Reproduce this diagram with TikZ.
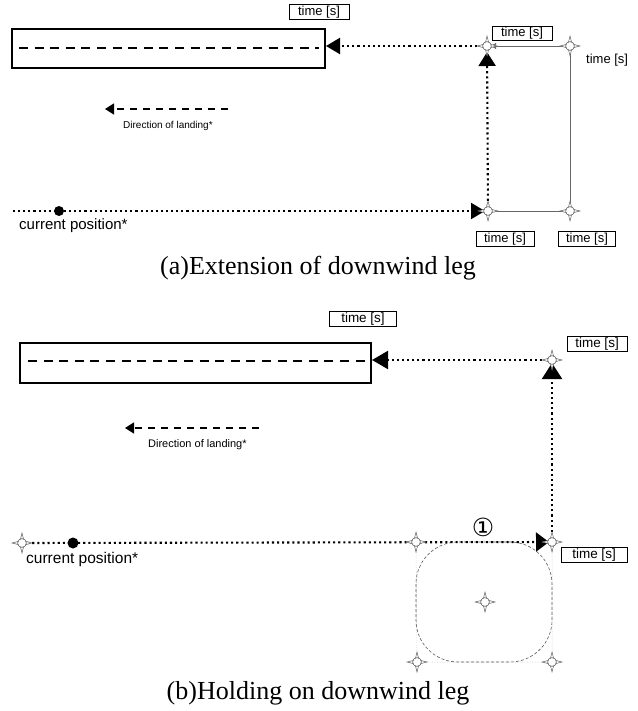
\documentclass[tikz,border=0pt]{standalone}
\usepackage{fontspec}
\setmainfont{Liberation Serif}
\setsansfont{Liberation Sans}
\newfontfamily\symfont{DejaVu Sans}
\usetikzlibrary{arrows.meta}

\begin{document}
\begin{tikzpicture}[x=1pt,y=-1pt,
  % waypoint symbol: four-pointed star with a ring in the middle
  waypoint/.pic={
    \draw[gray!75!black, line width=0.5pt, fill=white]
      (10,0) -- (2,2) -- (0,10) -- (-2,2) -- (-10,0) -- (-2,-2) -- (0,-10) -- (2,-2) -- cycle;
    \draw[gray!75!black, line width=0.6pt, fill=white] (0,0) circle (4.4);
  },
  runway/.style={draw, line width=2pt, inner sep=0pt},
  centerline/.style={line width=2.4pt, dash pattern=on 9pt off 6.6pt},
  route/.style={line width=2.1pt, dash pattern=on 2.1pt off 3pt},
  leg/.style={gray!80!black, line width=0.6pt},
  faint/.style={gray!45, line width=0.5pt, dash pattern=on 1pt off 1.5pt},
  hold/.style={gray!70!black, line width=0.6pt, dash pattern=on 3pt off 2pt, rounded corners=42pt},
  tboxa/.style={draw, line width=0.7pt, fill=white, inner sep=0pt,
    font=\sffamily\fontsize{13}{15}\selectfont, minimum height=15pt},
  tboxb/.style={draw, line width=0.7pt, fill=white, inner sep=0pt,
    font=\sffamily\fontsize{13.5}{15}\selectfont, minimum height=15.5pt},
  dirarrow/.style={line width=1.5pt, dash pattern=on 7pt off 6pt,
    -{Triangle[length=9pt,width=11pt]}},
  curdot/.style={circle, fill=black, inner sep=0pt, minimum size=10pt},
  curlabel/.style={anchor=west, inner sep=0pt, font=\sffamily\fontsize{15}{17}\selectfont},
  caption/.style={font=\fontsize{26}{30}\selectfont}
]
\useasboundingbox (0,0) rectangle (637,711);

%% ---------------- (a) extension of downwind leg ----------------
\node[runway, minimum width=313pt, minimum height=39pt] (rwa) at (168.5,48.5) {};
\draw[centerline] ([xshift=8pt]rwa.west |- 0,48) coordinate (cla) -- ([xshift=-7pt]rwa.east |- 0,48) coordinate (clb);

\coordinate (a1) at (487,46);
\coordinate (a2) at (570,46);
\coordinate (a3) at (488,211);
\coordinate (a4) at (570,211);
\coordinate (astart) at (13,211);

% pattern legs
\draw[leg, -{Triangle[length=5pt,width=6pt]}, shorten >=4pt] (a2) -- (a1);
\draw[leg] (a2) -- (a4) -- (a3);

% flown route
\draw[route, -{Triangle[length=14pt,width=16pt]}, shorten >=3pt] (astart) -- (a3);
\draw[route, -{Triangle[length=14pt,width=17pt]}, shorten >=6pt] (a3) -- (a1);
\draw[route, -{Triangle[length=14pt,width=16pt]}] (a1) -- (rwa.east |- a1);

\foreach \p in {a1,a2,a3,a4} \pic at (\p) {waypoint};
\node[curdot] (acur) at (59,211) {};
\node[curlabel] (acurl) at (19,226) {current position*};

% direction of landing
\coordinate (ad1) at (228,109);
\coordinate (ad2) at (105,109);
\draw[dirarrow] (ad1) -- (ad2);
\node[anchor=west, inner sep=0pt, font=\sffamily\fontsize{10}{12}\selectfont] (adl) at (123,126) {Direction of landing*};

% time labels
\node[tboxa, minimum width=60pt] (ta1) at (319,12) {time [s]};
\node[tboxa, minimum width=60pt, minimum height=14pt] (ta2) at (522,33) {time [s]};
\node[anchor=west, inner sep=0pt, font=\sffamily\fontsize{13}{15}\selectfont] (ta3) at (586,60) {time [s]};
\node[tboxa, minimum width=58pt] (ta4) at (505,239) {time [s]};
\node[tboxa, minimum width=57pt] (ta5) at (587,239) {time [s]};

\node[caption] (capa) at (318,268) {(a)Extension of downwind leg};

%% ---------------- (b) holding on downwind leg ----------------
\node[runway, minimum width=351pt, minimum height=40pt] (rwb) at (195.5,363) {};
\draw[centerline] ([xshift=9pt]rwb.west |- 0,361) coordinate (clc) -- ([xshift=-6pt]rwb.east |- 0,361) coordinate (cld);

\coordinate (b1) at (552,360);
\coordinate (b2) at (552,542);
\coordinate (bL) at (22,543);
\coordinate (bH) at (416,542);
\coordinate (bC) at (485,602);
\coordinate (bBL) at (417,662);
\coordinate (bBR) at (552,662);

% holding pattern
\draw[faint] (bH) -- (bBL) -- (bBR) -- (b2);
\draw[hold] (bH) rectangle (bBR);

% flown route
\draw[route, -{Triangle[length=13pt,width=19pt]}, shorten >=3pt] (bL) -- (b2);
\draw[route, -{Triangle[length=16pt,width=20pt]}, shorten >=3pt] (b2) -- (b1);
\draw[route, -{Triangle[length=16pt,width=18pt]}] (b1) -- (rwb.east |- b1);

\foreach \p in {b1,b2,bL,bH,bC,bBL,bBR} \pic at (\p) {waypoint};
\node[curdot, minimum size=11pt] (bcur) at (73,543) {};
\node[curlabel, font=\sffamily\fontsize{15.5}{17}\selectfont] (bcurl) at (26,559) {current position*};
\node[font=\symfont\fontsize{25}{27}\selectfont, inner sep=0pt] (n1) at (483,527) {①};

% direction of landing
\coordinate (bd1) at (259,428);
\coordinate (bd2) at (125,428);
\draw[dirarrow] (bd1) -- (bd2);
\node[anchor=west, inner sep=0pt, font=\sffamily\fontsize{11}{13}\selectfont] (bdl) at (148,445) {Direction of landing*};

% time labels
\node[tboxb, minimum width=67pt] (tb1) at (363,319) {time [s]};
\node[tboxb, minimum width=60pt] (tb2) at (597,344) {time [s]};
\node[tboxb, minimum width=66pt] (tb3) at (594,555) {time [s]};

\node[caption] (capb) at (318,693) {(b)Holding on downwind leg};
\end{tikzpicture}
\end{document}
